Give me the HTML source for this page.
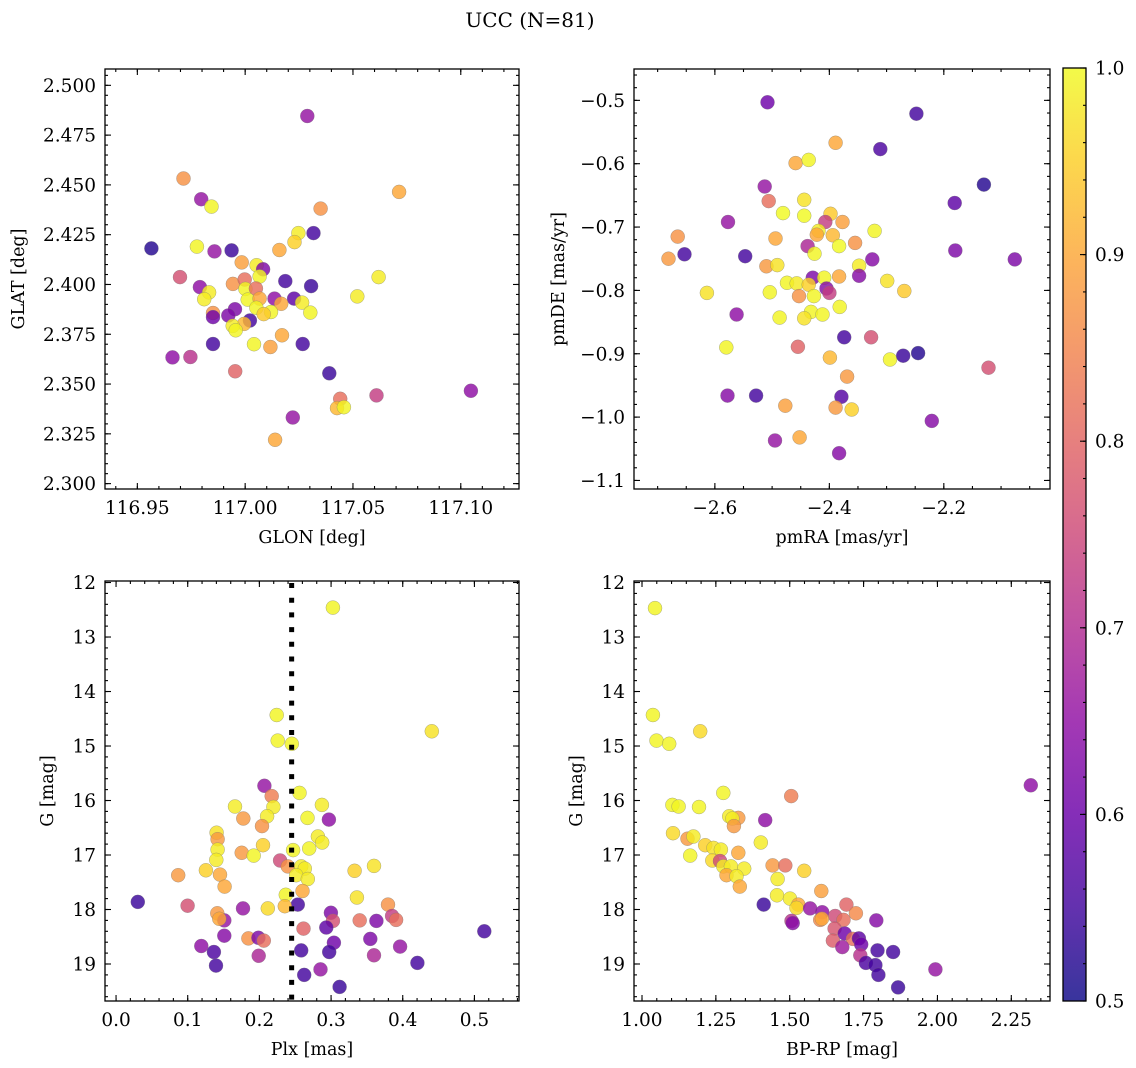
<!DOCTYPE html>
<html><head><meta charset="utf-8">
<style>
html,body{margin:0;padding:0;background:#fff;}
svg{display:block;font-family:"DejaVu Serif","Liberation Serif",serif;}
</style></head>
<body>
<svg id="fig" width="1136" height="1068" viewBox="0 0 1136 1068" xmlns="http://www.w3.org/2000/svg">
<defs>
<linearGradient id="cbgrad" x1="0" y1="1" x2="0" y2="0">
<stop offset="0" stop-color="#0d0887"/><stop offset="0.1" stop-color="#41049d"/><stop offset="0.2" stop-color="#6a00a8"/><stop offset="0.3" stop-color="#8f0da4"/><stop offset="0.4" stop-color="#b12a90"/><stop offset="0.5" stop-color="#cc4778"/><stop offset="0.6" stop-color="#e16462"/><stop offset="0.7" stop-color="#f2844b"/><stop offset="0.8" stop-color="#fca636"/><stop offset="0.9" stop-color="#fcce25"/><stop offset="1" stop-color="#f0f921"/>
</linearGradient>
</defs>
<text x="530" y="27" font-size="20" text-anchor="middle">UCC (N=81)</text>
</svg>
<script>
// ---- Panel 1: GLON vs GLAT ----
const p1Glon=[117.0288,116.9714,116.9796,116.9844,117.0714,117.0350,117.0317,117.0247,117.0229,117.0159,116.9565,116.9776,116.9858,116.9937,116.9984,117.0053,117.0083,117.0067,117.0186,117.0306,117.0619,117.0520,116.9698,116.9790,116.9943,116.9998,116.9833,116.9810,117.0001,117.0050,117.0012,117.0067,117.0136,117.0227,117.0264,117.0167,117.0302,117.0052,117.0120,117.0086,116.9953,116.9851,116.9851,116.9922,117.0022,116.9995,116.9942,116.9956,117.0041,117.0117,117.0171,117.0267,116.9851,116.9663,116.9746,116.9954,117.0390,117.0441,117.0426,117.0458,117.0609,117.1047,117.0221,117.0139];
const p1Glat=[2.4846,2.4532,2.4428,2.4391,2.4465,2.4381,2.4258,2.4258,2.4213,2.4173,2.4181,2.4190,2.4166,2.4171,2.4111,2.4097,2.4076,2.4040,2.4017,2.3992,2.4037,2.3940,2.4037,2.3987,2.4003,2.4025,2.3960,2.3926,2.3978,2.3980,2.3924,2.3929,2.3929,2.3929,2.3909,2.3903,2.3859,2.3883,2.3862,2.3851,2.3876,2.3857,2.3836,2.3844,2.3819,2.3802,2.3792,2.3770,2.3700,2.3686,2.3745,2.3701,2.3701,2.3634,2.3636,2.3564,2.3554,2.3426,2.3379,2.3384,2.3443,2.3466,2.3332,2.3220];
const p1Prob=[.65,.85,.65,.97,.88,.85,.55,.96,.93,.88,.52,.97,.65,.54,.87,.96,.62,.97,.55,.54,.96,.96,.75,.64,.85,.8,.96,.96,.97,.8,.97,.88,.64,.58,.96,.88,.97,.97,.97,.92,.62,.85,.6,.62,.55,.9,.96,.97,.97,.87,.88,.55,.55,.64,.7,.78,.54,.8,.9,.97,.72,.64,.65,.88];
// ---- Panel 2: pmRA vs pmDE ----
const p2PmRA=[-2.508,-2.248,-2.389,-2.311,-2.459,-2.436,-2.130,-2.513,-2.506,-2.181,-2.444,-2.481,-2.444,-2.398,-2.407,-2.377,-2.577,-2.321,-2.419,-2.422,-2.394,-2.355,-2.494,-2.383,-2.438,-2.426,-2.665,-2.653,-2.681,-2.547,-2.180,-2.076,-2.325,-2.510,-2.491,-2.348,-2.348,-2.429,-2.409,-2.383,-2.474,-2.457,-2.436,-2.405,-2.400,-2.453,-2.427,-2.504,-2.614,-2.299,-2.269,-2.382,-2.432,-2.412,-2.444,-2.487,-2.562,-2.374,-2.327,-2.455,-2.580,-2.399,-2.294,-2.271,-2.245,-2.122,-2.369,-2.578,-2.528,-2.379,-2.477,-2.389,-2.361,-2.221,-2.495,-2.452,-2.383];
const p2PmDE=[-0.503,-0.521,-0.567,-0.577,-0.599,-0.594,-0.633,-0.636,-0.659,-0.662,-0.657,-0.678,-0.682,-0.679,-0.692,-0.692,-0.692,-0.706,-0.706,-0.712,-0.713,-0.725,-0.718,-0.730,-0.730,-0.742,-0.715,-0.743,-0.750,-0.746,-0.737,-0.751,-0.751,-0.762,-0.760,-0.761,-0.777,-0.780,-0.780,-0.778,-0.788,-0.789,-0.791,-0.797,-0.804,-0.809,-0.809,-0.803,-0.804,-0.785,-0.801,-0.826,-0.834,-0.838,-0.844,-0.843,-0.838,-0.874,-0.874,-0.889,-0.890,-0.906,-0.909,-0.903,-0.899,-0.922,-0.936,-0.966,-0.966,-0.968,-0.982,-0.985,-0.988,-1.006,-1.037,-1.032,-1.057];
const p2Prob=[.6,.55,.88,.56,.88,.97,.52,.65,.8,.58,.95,.98,.98,.92,.72,.87,.65,.97,.96,.88,.9,.85,.88,.98,.68,.97,.85,.55,.86,.55,.62,.62,.63,.86,.95,.96,.63,.62,.97,.88,.97,.96,.93,.63,.72,.85,.97,.97,.95,.95,.92,.97,.97,.97,.95,.97,.64,.55,.75,.78,.97,.9,.97,.54,.52,.75,.86,.63,.55,.57,.87,.86,.93,.63,.65,.88,.63];
// ---- Panel 3: Plx vs G ----
const p3Plx=[0.3026,0.2242,0.2256,0.2452,0.4406,0.2070,0.2172,0.2559,0.2872,0.1660,0.2196,0.2107,0.1776,0.2671,0.2970,0.2037,0.1403,0.1417,0.2816,0.2876,0.1417,0.2051,0.2471,0.2695,0.1753,0.1921,0.1399,0.2289,0.2396,0.2583,0.2634,0.1254,0.3329,0.3599,0.0867,0.1450,0.2513,0.2676,0.1515,0.2601,0.2368,0.3361,0.0303,0.2536,0.0998,0.2117,0.2354,0.1772,0.3795,0.1413,0.2998,0.3851,0.3907,0.1510,0.1441,0.3399,0.3632,0.3026,0.2933,0.2615,0.1510,0.1846,0.1986,0.2061,0.3548,0.5138,0.3040,0.1189,0.3963,0.1366,0.2583,0.2974,0.1991,0.3599,0.4205,0.1394,0.2853,0.2625,0.3119];
const p3G=[12.46,14.43,14.90,14.96,14.73,15.73,15.92,15.86,16.08,16.11,16.12,16.29,16.33,16.32,16.35,16.47,16.59,16.71,16.66,16.77,16.90,16.82,16.91,16.88,16.96,17.01,17.09,17.10,17.21,17.21,17.25,17.28,17.29,17.20,17.37,17.36,17.37,17.44,17.58,17.66,17.73,17.78,17.86,17.91,17.93,17.98,17.94,17.98,17.91,18.07,18.06,18.12,18.19,18.20,18.17,18.20,18.21,18.21,18.33,18.35,18.48,18.53,18.52,18.57,18.54,18.40,18.61,18.67,18.68,18.78,18.75,18.78,18.85,18.84,18.98,19.03,19.10,19.20,19.42];
const p3Prob=[.97,.97,.97,.97,.95,.65,.82,.97,.96,.96,.96,.96,.86,.97,.64,.85,.95,.86,.96,.96,.96,.93,.97,.97,.86,.97,.96,.74,.85,.96,.96,.93,.93,.95,.86,.88,.96,.96,.88,.88,.97,.95,.54,.55,.75,.94,.9,.65,.85,.86,.62,.72,.8,.65,.88,.8,.62,.75,.58,.78,.63,.85,.62,.8,.62,.55,.6,.64,.65,.56,.55,.55,.68,.68,.55,.55,.65,.55,.54];
// ---- Panel 4: BP-RP vs G ----
const p4BpRp=[1.044,1.037,1.049,1.092,1.197,2.316,1.505,1.275,1.103,1.124,1.193,1.326,1.295,1.306,1.311,1.417,1.105,1.154,1.174,1.402,1.214,1.242,1.267,1.326,1.163,1.238,1.264,1.275,1.301,1.346,1.442,1.485,1.549,1.286,1.320,1.459,1.331,1.607,1.457,1.412,1.501,1.529,1.523,1.692,1.569,1.610,1.724,1.654,1.793,1.506,1.510,1.603,1.609,1.682,1.652,1.686,1.646,1.714,1.734,1.742,1.678,1.739,1.797,1.850,1.758,1.790,1.800,1.993,1.867];
const p4G=[12.47,14.43,14.90,14.96,14.73,15.72,15.92,15.86,16.08,16.11,16.12,16.32,16.29,16.33,16.47,16.36,16.60,16.70,16.66,16.77,16.82,16.87,16.90,16.96,17.01,17.10,17.11,17.21,17.21,17.25,17.19,17.19,17.29,17.37,17.39,17.44,17.58,17.66,17.74,17.91,17.80,17.91,17.97,17.91,17.98,18.05,18.07,18.12,18.20,18.21,18.25,18.19,18.17,18.19,18.35,18.44,18.57,18.54,18.53,18.64,18.69,18.84,18.75,18.78,18.98,19.02,19.20,19.10,19.43];
const p4Prob=[.97,.97,.97,.97,.94,.64,.82,.97,.97,.97,.97,.86,.96,.96,.86,.64,.94,.86,.96,.96,.93,.95,.96,.88,.97,.94,.74,.96,.96,.96,.86,.8,.93,.88,.96,.96,.88,.87,.96,.54,.96,.88,.94,.78,.65,.64,.84,.74,.63,.7,.63,.84,.88,.8,.76,.6,.77,.8,.58,.6,.66,.7,.55,.55,.56,.55,.55,.65,.54];
// ---- Tick labels ----
const p1XTicks=[116.95,117.00,117.05,117.10];
const p1XLabels=["116.95","117.00","117.05","117.10"];
const p1YTicks=[2.300,2.325,2.350,2.375,2.400,2.425,2.450,2.475,2.500];
const p1YLabels=["2.300","2.325","2.350","2.375","2.400","2.425","2.450","2.475","2.500"];
const p2XTicks=[-2.6,-2.4,-2.2];
const p2XLabels=["\u22122.6","\u22122.4","\u22122.2"];
const p2YTicks=[-1.1,-1.0,-0.9,-0.8,-0.7,-0.6,-0.5];
const p2YLabels=["\u22121.1","\u22121.0","\u22120.9","\u22120.8","\u22120.7","\u22120.6","\u22120.5"];
const p3XTicks=[0.0,0.1,0.2,0.3,0.4,0.5];
const p3XLabels=["0.0","0.1","0.2","0.3","0.4","0.5"];
const gTicks=[12,13,14,15,16,17,18,19];
const gLabels=["12","13","14","15","16","17","18","19"];
const p4XTicks=[1.00,1.25,1.50,1.75,2.00,2.25];
const p4XLabels=["1.00","1.25","1.50","1.75","2.00","2.25"];
const cbTicks=[0.5,0.6,0.7,0.8,0.9,1.0];
const cbLabels=["0.5","0.6","0.7","0.8","0.9","1.0"];
const plxMedian=0.245;

const NS="http://www.w3.org/2000/svg";
const svg=document.getElementById('fig');
const stops=[[0,13,8,135],[.1,65,4,157],[.2,106,0,168],[.3,143,13,164],[.4,177,42,144],[.5,204,71,120],[.6,225,100,98],[.7,242,132,75],[.8,252,166,54],[.9,252,206,37],[1,240,249,33]];
function plasma(v){
  let t=(v-0.5)/0.475; t=Math.max(0,Math.min(1,t));
  for(let i=0;i<stops.length-1;i++){
    const a=stops[i],b=stops[i+1];
    if(t<=b[0]){const f=(t-a[0])/(b[0]-a[0]);
      return 'rgb('+[1,2,3].map(k=>Math.round(a[k]+f*(b[k]-a[k]))).join(',')+')';}
  }
  return 'rgb(240,249,33)';
}
function mk(tag,attrs,parent){const e=document.createElementNS(NS,tag);for(const k in attrs)e.setAttribute(k,attrs[k]);(parent||svg).appendChild(e);return e;}

function panel(cfg){
  const g=mk('g',{});
  
  
  const sx=v=>cfg.L+(v-cfg.x0)/(cfg.x1-cfg.x0)*(cfg.R-cfg.L);
  const sy=v=>cfg.B-(v-cfg.y0)/(cfg.y1-cfg.y0)*(cfg.B-cfg.T);
  const pg=mk('g',{},g);
  
  
  for(let i=0;i<cfg.xs.length;i++){
    const c=mk('circle',{cx:sx(cfg.xs[i]).toFixed(1),cy:sy(cfg.ys[i]).toFixed(1),r:7,fill:plasma(cfg.cs[i]),'fill-opacity':0.82,stroke:'#777','stroke-width':0.5,'stroke-opacity':0.6},pg);
    
    
  }
  if(cfg.vline!==undefined){
    const l=mk('line',{x1:sx(cfg.vline),x2:sx(cfg.vline),y1:cfg.T+2,y2:cfg.B,stroke:'#000','stroke-width':5,'stroke-dasharray':'5 9.7'},g);
    
    
  }
  const f=mk('rect',{x:cfg.L,y:cfg.T,width:cfg.R-cfg.L,height:cfg.B-cfg.T,fill:'none',stroke:'#000','stroke-width':1.3},g);
  
  
  const tk=mk('g',{stroke:'#000','stroke-width':1.1},g);
  
  
  const eps=1e-9;
  const xlo=Math.min(cfg.x0,cfg.x1),xhi=Math.max(cfg.x0,cfg.x1);
  const ylo=Math.min(cfg.y0,cfg.y1),yhi=Math.max(cfg.y0,cfg.y1);
  for(let v=Math.ceil(xlo/cfg.xm)*cfg.xm;v<=xhi+eps;v+=cfg.xm){const x=sx(v);
    mk('line',{x1:x,x2:x,y1:cfg.B,y2:cfg.B-3},tk);mk('line',{x1:x,x2:x,y1:cfg.T,y2:cfg.T+3},tk);}
  for(let v=Math.ceil(ylo/cfg.ym)*cfg.ym;v<=yhi+eps;v+=cfg.ym){const y=sy(v);
    mk('line',{x1:cfg.L,x2:cfg.L+3,y1:y,y2:y},tk);mk('line',{x1:cfg.R,x2:cfg.R-3,y1:y,y2:y},tk);}
  cfg.xt.forEach((v,i)=>{const x=sx(v);
    mk('line',{x1:x,x2:x,y1:cfg.B,y2:cfg.B-6},tk);mk('line',{x1:x,x2:x,y1:cfg.T,y2:cfg.T+6},tk);
    const t=mk('text',{x:x,y:cfg.B+25,'font-size':18.5,'text-anchor':'middle'},g);t.textContent=cfg.xl[i];
    
    });
  cfg.yt.forEach((v,i)=>{const y=sy(v);
    mk('line',{x1:cfg.L,x2:cfg.L+6,y1:y,y2:y},tk);mk('line',{x1:cfg.R,x2:cfg.R-6,y1:y,y2:y},tk);
    const t=mk('text',{x:cfg.L-9,y:y+6.5,'font-size':18.5,'text-anchor':'end'},g);t.textContent=cfg.yl[i];
    
    });
  const xt=mk('text',{x:(cfg.L+cfg.R)/2,y:cfg.B+54,'font-size':17.5,'text-anchor':'middle'},g);xt.textContent=cfg.xlabel;
  
  
  const yy=(cfg.T+cfg.B)/2;
  const yt=mk('text',{x:cfg.ylx,y:yy,'font-size':17.5,'text-anchor':'middle',transform:'rotate(-90 '+cfg.ylx+' '+yy+')'},g);yt.textContent=cfg.ylabel;
  
  
}

panel({name:'glon-glat-panel',L:105,R:519,T:69,B:489,x0:116.935,x1:117.127,y0:2.2973,y1:2.5082,xm:0.01,ym:0.005,
  xs:p1Glon,ys:p1Glat,cs:p1Prob,xt:p1XTicks,xl:p1XLabels,yt:p1YTicks,yl:p1YLabels,xlabel:'GLON [deg]',ylabel:'GLAT [deg]',ylx:24});
panel({name:'pm-panel',L:634,R:1050,T:69,B:489,x0:-2.7413,x1:-2.0145,y0:-1.1135,y1:-0.4505,xm:0.05,ym:0.02,
  xs:p2PmRA,ys:p2PmDE,cs:p2Prob,xt:p2XTicks,xl:p2XLabels,yt:p2YTicks,yl:p2YLabels,xlabel:'pmRA [mas/yr]',ylabel:'pmDE [mas/yr]',ylx:564});
panel({name:'plx-g-panel',L:105,R:519,T:581,B:1001,x0:-0.0154,x1:0.5622,y0:19.679,y1:11.972,xm:0.02,ym:0.2,
  xs:p3Plx,ys:p3G,cs:p3Prob,xt:p3XTicks,xl:p3XLabels,yt:gTicks,yl:gLabels,xlabel:'Plx [mas]',ylabel:'G [mag]',ylx:53,vline:plxMedian});
panel({name:'cmd-panel',L:634,R:1050,T:581,B:1001,x0:0.9729,x1:2.381,y0:19.679,y1:11.972,xm:0.05,ym:0.2,
  xs:p4BpRp,ys:p4G,cs:p4Prob,xt:p4XTicks,xl:p4XLabels,yt:gTicks,yl:gLabels,xlabel:'BP-RP [mag]',ylabel:'G [mag]',ylx:582});

(function(){
  const g=mk('g',{});
  
  
  const L=1063,R=1086,T=68,B=1001;
  mk('rect',{x:L,y:T,width:R-L,height:B-T,fill:'url(#cbgrad)','fill-opacity':0.82},g);
  mk('rect',{x:L,y:T,width:R-L,height:B-T,fill:'none',stroke:'#000','stroke-width':1.3},g);
  const sy=v=>B-(v-0.5)/0.5*(B-T);
  for(let v=0.5;v<=1.0001;v+=0.02){mk('line',{x1:R,x2:R-3,y1:sy(v),y2:sy(v),stroke:'#000','stroke-width':1.1},g);}
  cbTicks.forEach((v,i)=>{const y=sy(v);
    mk('line',{x1:R,x2:R-6,y1:y,y2:y,stroke:'#000','stroke-width':1.1},g);
    const t=mk('text',{x:R+9,y:y+6.5,'font-size':18.5},g);t.textContent=cbLabels[i];
    
    });
})();
</script>
</body></html>
